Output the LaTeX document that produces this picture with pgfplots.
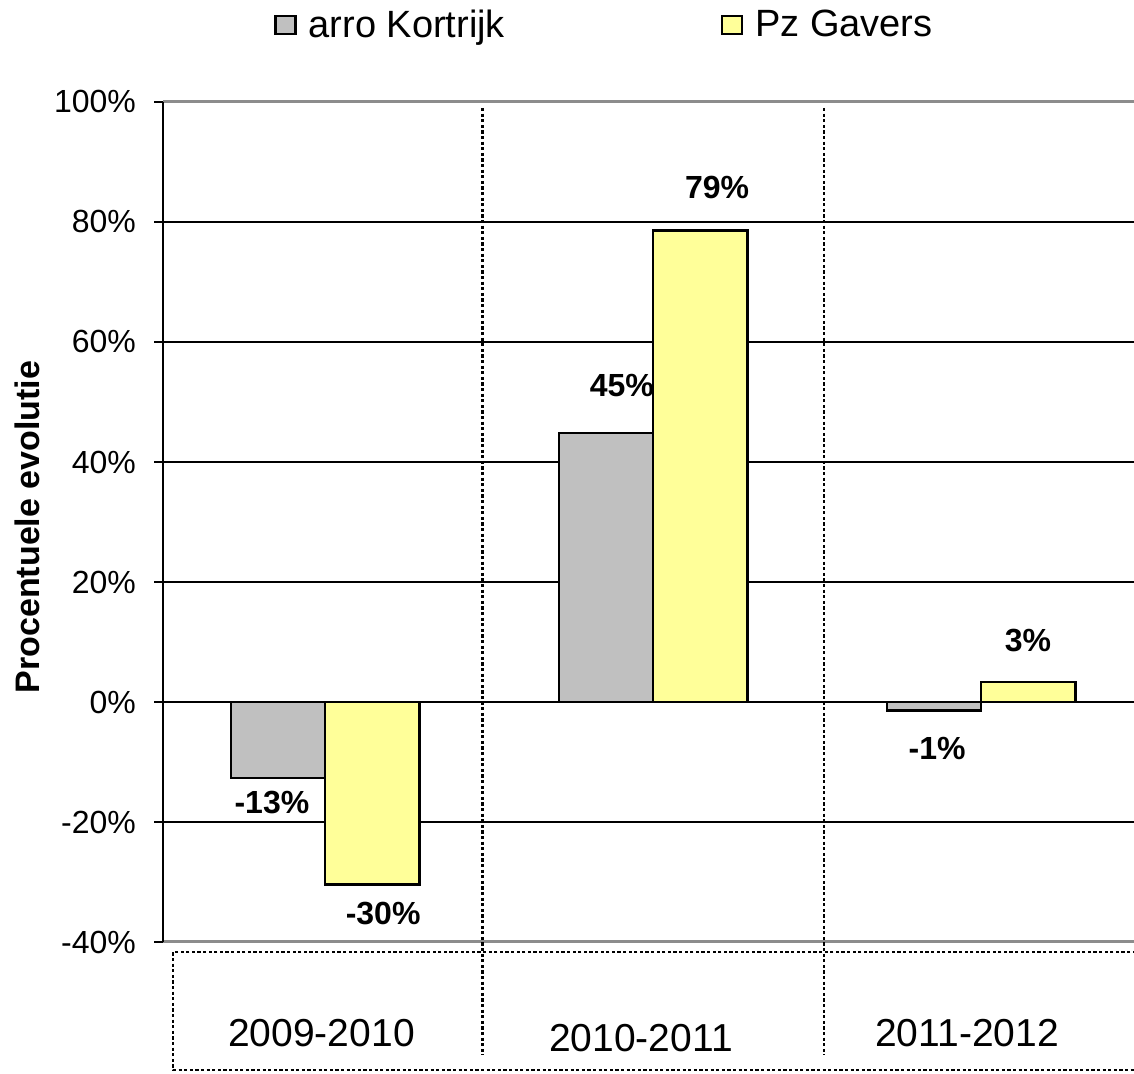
\documentclass[border=0pt]{standalone}
\usepackage{fontspec}
\setmainfont{Liberation Sans}
\usepackage{pgfplots}
\pgfplotsset{compat=1.18}
\definecolor{barGray}{RGB}{192,192,192}
\definecolor{barYellow}{RGB}{255,255,153}
\definecolor{frameGray}{RGB}{140,140,140}
\begin{document}
\begin{tikzpicture}
\begin{axis}[
  set layers,
  scale only axis, width=485.5pt, height=420pt,
  xmin=-0.494, xmax=2.466, ymin=-40, ymax=100,
  ytick={-40,-20,0,20,40,60,80,100},
  yticklabel={\pgfmathprintnumber{\tick}\%},
  /pgf/number format/assume math mode=true,
  xtick=\empty,
  ymajorgrids, grid style={black, line width=0.6pt},
  axis line style={draw=none},
  ytick pos=left, tick align=outside, major tick length=4.5pt,
  tick style={black, line width=0.8pt},
  tick label style={font=\fontsize{16}{19}\selectfont},
  yticklabel style={xshift=-5.5pt},
  ylabel={Procentuele evolutie},
  ylabel style={at={(axis description cs:-0.1267,0.494)}, anchor=base, font=\bfseries\fontsize{17}{20}\selectfont},
  ybar, bar width=0.287,
  clip=false,
  legend columns=2,
  legend image code/.code={\draw[#1, line width=1.1pt] (0pt,-4.5pt) rectangle (10pt,4.5pt);},
  legend style={at={(axis description cs:0.1143,1.0917)}, anchor=west, draw=none, fill=none, inner sep=0pt,
    font=\fontsize{19}{22}\selectfont,
    nodes={inner sep=0pt},
    /tikz/every odd column/.append style={column sep=6pt},
    /tikz/every even column/.append style={column sep=108pt}},
]
\addplot[fill=barGray, draw=black, line width=1.3pt, bar shift=-0.1435] coordinates {(0,-12.7) (1,44.8) (2,-1.4)};
\addlegendentry{arro Kortrijk}
\addplot[fill=barYellow, draw=black, line width=1.3pt, bar shift=0.1435, on layer=axis foreground] coordinates {(0,-30.4) (1,78.6) (2,3.3)};
\addlegendentry{Pz Gavers}
\node[font=\bfseries\fontsize{16}{19}\selectfont] at (axis cs:0.905,52.7) {45\%};
\node[font=\bfseries\fontsize{16}{19}\selectfont] at (axis cs:-0.162,-16.8) {-13\%};
\node[font=\bfseries\fontsize{16}{19}\selectfont] at (axis cs:0.177,-35.2) {-30\%};
\node[font=\bfseries\fontsize{16}{19}\selectfont] at (axis cs:1.195,85.7) {79\%};
\node[font=\bfseries\fontsize{16}{19}\selectfont] at (axis cs:2.143,10.2) {3\%};
\node[font=\bfseries\fontsize{16}{19}\selectfont] at (axis cs:1.866,-7.7) {-1\%};
% frame
\draw[frameGray, line width=1.5pt] (rel axis cs:0,1) -- (rel axis cs:1,1);
\draw[frameGray, line width=1.5pt] (rel axis cs:0,0) -- (rel axis cs:1,0);
\draw[black, line width=0.9pt] (rel axis cs:0,0) -- (rel axis cs:0,1);
% separators
\draw[black, line width=1.1pt, dash pattern=on 1.6pt off 1.2pt] (axis cs:0.48,99) -- ([yshift=-56.5pt]axis cs:0.48,-40);
\draw[black, line width=1.1pt, dash pattern=on 1.6pt off 1.2pt] (axis cs:1.52,99) -- ([yshift=-56.5pt]axis cs:1.52,-40);
\end{axis}
% category label box
\draw[black, line width=1.1pt, dash pattern=on 1.6pt off 1.2pt] (492pt,-5pt) -- (5pt,-5pt) -- (5pt,-64pt) -- (492pt,-64pt);
\node[anchor=base, font=\fontsize{19.5}{23}\selectfont] at (79.25pt,-52.5pt) {2009-2010};
\node[anchor=base, font=\fontsize{19.5}{23}\selectfont] at (239pt,-55pt) {2010-2011};
\node[anchor=base, font=\fontsize{19.5}{23}\selectfont] at (402pt,-52.5pt) {2011-2012};
\pgfresetboundingbox
\path (-81.5pt,-66pt) rectangle (485.5pt,471pt);
\end{tikzpicture}
\end{document}
